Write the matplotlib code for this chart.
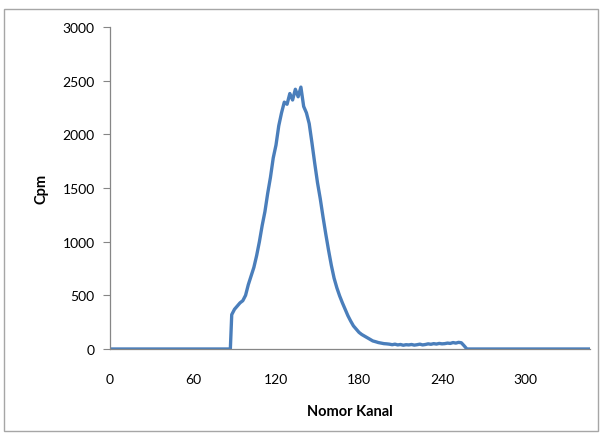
import matplotlib
matplotlib.use("Agg")
from matplotlib import pyplot as plt
from matplotlib.patches import Rectangle

# channel numbers and counts per minute
kanal_awal = [0, 87]
cpm_awal = [0, 0]

kanal_puncak = [88, 90, 92, 94, 96, 98, 100, 102, 104, 106, 108, 110, 112, 114,
                116, 118, 120, 122, 124, 126, 128, 130, 132, 134, 136, 138, 140,
                142, 144, 146, 148, 150, 152, 154, 156, 158, 160, 162, 164, 166,
                168, 170, 172, 174, 176, 178, 180, 182, 184, 186, 188, 190, 192,
                194, 196, 198, 200, 202, 204, 206, 208, 210, 212, 214, 216, 218,
                220, 222, 224, 226, 228, 230, 232, 234, 236, 238, 240, 242, 244,
                246, 248, 250, 252, 254, 256, 258]
cpm_puncak = [320, 370, 400, 430, 450, 500, 600, 680, 760, 870, 1000, 1150, 1280, 1450,
              1600, 1780, 1900, 2080, 2200, 2300, 2280, 2380, 2320, 2420, 2350, 2440, 2260,
              2200, 2100, 1920, 1730, 1550, 1400, 1230, 1070, 920, 780, 660, 570, 495,
              430, 370, 310, 260, 215, 185, 155, 135, 120, 105, 90, 75, 68,
              60, 55, 50, 48, 45, 40, 45, 38, 42, 35, 40, 38, 42,
              36, 40, 45, 38, 42, 48, 44, 50, 46, 52, 48, 50, 55,
              52, 60, 55, 62, 58, 30, 0]

kanal_akhir = [260, 347]
cpm_akhir = [0, 0]

x = kanal_awal + kanal_puncak + kanal_akhir
y = cpm_awal + cpm_puncak + cpm_akhir

xticks = [0, 60, 120, 180, 240, 300]
yticks = [0, 500, 1000, 1500, 2000, 2500, 3000]

plt.rcParams['font.family'] = ['Lato', 'DejaVu Sans']

fig = plt.figure(figsize=(6.02, 4.35), dpi=100)
ax = fig.add_axes([110 / 602, 1 - 350 / 435, 480 / 602, 322 / 435])

ax.plot(x, y, color="#4A7EBB", linewidth=2.4, solid_joinstyle="round")

ax.set_xlim(0, 347)
ax.set_ylim(0, 3000)
ax.set_xticks(xticks)
ax.set_yticks(yticks)
ax.tick_params(axis="x", length=0, pad=17, labelsize=10)
ax.tick_params(axis="y", length=5, color="#868686", pad=6, labelsize=10)

for s in ["top", "right"]:
    ax.spines[s].set_visible(False)
for s in ["left", "bottom"]:
    ax.spines[s].set_color("#868686")
    ax.spines[s].set_linewidth(0.9)

ax.set_xlabel("Nomor Kanal", fontweight="bold", fontsize=10.5, labelpad=14)
ax.set_ylabel("Cpm", fontweight="bold", fontsize=10.5, labelpad=10)

# outer chart frame
fig.patches.append(Rectangle((4 / 602, 3 / 435), 594 / 602, 422 / 435,
                             transform=fig.transFigure, fill=False,
                             edgecolor="#A6A6A6", linewidth=1))

fig.savefig("out.png", dpi=100)
